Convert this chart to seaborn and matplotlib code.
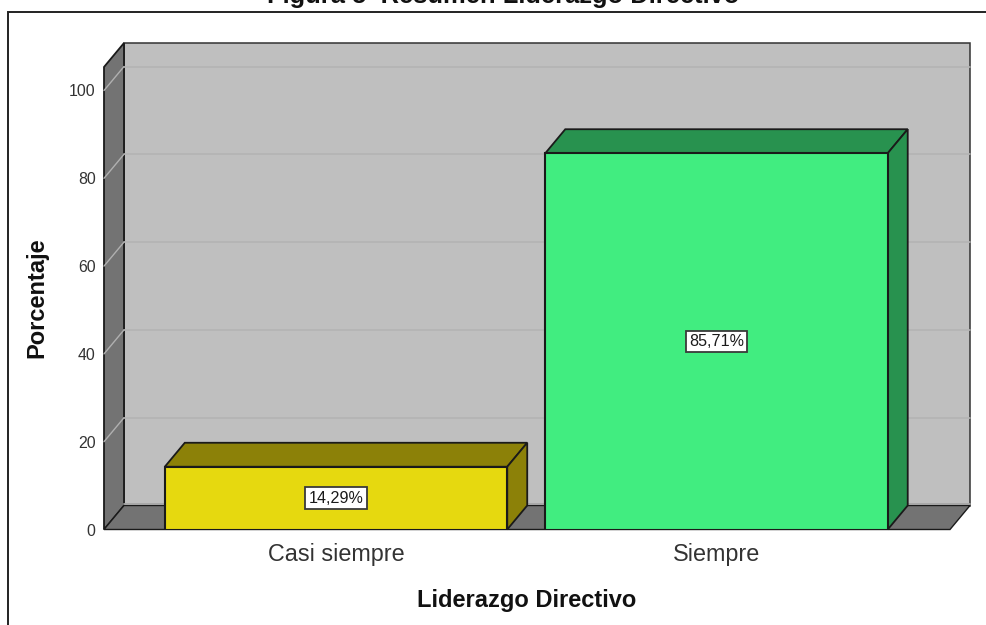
import matplotlib
matplotlib.use("Agg")
import matplotlib.pyplot as plt
import seaborn as sns
import pandas as pd
from matplotlib.patches import Polygon, Rectangle

sns.set_theme(style="white")
plt.rcParams['font.family'] = ['Liberation Sans', 'DejaVu Sans']

categories = ["Casi siempre", "Siempre"]
percentages = [14.29, 85.71]
value_labels = ["14,29%", "85,71%"]
y_ticks = [0, 20, 40, 60, 80, 100]
bar_colors = ["#e6d90f", "#41ed80"]
shade_colors = ["#8c8108", "#28924f"]
title = "Figura 5  Resumen Liderazgo Directivo"
x_title = "Liderazgo Directivo"
y_title = "Porcentaje"

W, H = 987, 625
LEFT, RIGHT, FLOOR, TOP = 104, 950, 529.5, 67
PX_PER_UNIT = 4.39
PX_PER_CAT = 380.5
CENTER0 = 336
DX, DY = 20, 24
WALL, SIDE, EDGE = "#bfbfbf", "#737373", "#1a1a1a"

fig = plt.figure(figsize=(W / 100, H / 100), dpi=100, facecolor="white")
ax = fig.add_axes([LEFT / W, 1 - FLOOR / H, (RIGHT - LEFT) / W, (FLOOR - TOP) / H])
df = pd.DataFrame({"cat": categories, "pct": percentages})
sns.barplot(data=df, x="cat", y="pct", hue="cat", palette=bar_colors, legend=False,
            width=0.9, saturation=1, edgecolor=EDGE, linewidth=1.5, ax=ax, zorder=5)
ax.set_xlim((LEFT - CENTER0) / PX_PER_CAT, (RIGHT - CENTER0) / PX_PER_CAT)
ax.set_ylim(0, (FLOOR - TOP) / PX_PER_UNIT)
ax.patch.set_alpha(0)
for s in ax.spines.values():
    s.set_visible(False)

ddx, ddy = DX / PX_PER_CAT, DY / PX_PER_UNIT
x0, x1 = ax.get_xlim()
y1 = ax.get_ylim()[1]

def poly(pts, fc, z, ec=EDGE, lw=1.3):
    ax.add_patch(Polygon(pts, closed=True, facecolor=fc, edgecolor=ec, linewidth=lw,
                         clip_on=False, zorder=z, joinstyle="miter"))

# room: back wall, left wall, floor
poly([(x0 + ddx, ddy), (x1 + ddx, ddy), (x1 + ddx, y1 + ddy), (x0 + ddx, y1 + ddy)], WALL, 1, ec="#333333", lw=1.1)
poly([(x0, 0), (x0 + ddx, ddy), (x0 + ddx, y1 + ddy), (x0, y1)], SIDE, 2)
poly([(x0, 0), (x1, 0), (x1 + ddx, ddy), (x0 + ddx, ddy)], SIDE, 2, lw=1.0)
ax.plot([x0 + ddx, x1 + ddx], [ddy + 0.4, ddy + 0.4], color="#a6a6a6", lw=1.3, zorder=3, clip_on=False)
for t in y_ticks[1:]:
    ax.plot([x0 + ddx, x1 + ddx], [t + ddy, t + ddy], color="#b4b4b4", lw=1.2,
            zorder=3, clip_on=False)
    ax.plot([x0, x0 + ddx], [t, t + ddy], color="#b0b0b0", lw=1.0, zorder=3, clip_on=False)

# bar depth faces and labels
for patch, shade, lab in zip(ax.patches, shade_colors, value_labels):
    a, b, h = patch.get_x(), patch.get_x() + patch.get_width(), patch.get_height()
    poly([(a, h), (b, h), (b + ddx, h + ddy), (a + ddx, h + ddy)], shade, 4)
    poly([(b, 0), (b + ddx, ddy), (b + ddx, h + ddy), (b, h)], shade, 4)
    ax.text((a + b) / 2, h / 2, lab, ha="center", va="center", fontsize=11.6, color="#1a1a1a", zorder=7,
            bbox=dict(boxstyle="square,pad=0.2", facecolor="white", edgecolor="#3a3a3a", linewidth=1.3))

ax.set_yticks(y_ticks)
ax.set_yticklabels([str(t) for t in y_ticks], fontsize=11.4, color="#333333")
ax.set_xticks(range(len(categories)))
ax.set_xticklabels(categories, fontsize=16.8, color="#333333")
ax.tick_params(axis="y", length=0, pad=6)
ax.tick_params(axis="x", length=0, pad=10)
ax.set_xlabel("")
ax.set_ylabel("")

# labels positioned in figure pixels
fig.text(527 / W, 1 - 600 / H, x_title, ha="center", va="center", fontsize=17, fontweight="bold", color="#111111")
fig.text(37 / W, 1 - 298 / H, y_title, ha="center", va="center", rotation=90, fontsize=17, fontweight="bold", color="#111111")
fig.text(503 / W, 1 - 3.5 / H, title, ha="center", va="baseline", fontsize=18.4, fontweight="bold", color="#111111")

# outer frame, open at right and bottom edges of the image
fig.add_artist(Rectangle((8.5 / W, -0.05), (W + 20) / W, 1.05 - 11.5 / H, transform=fig.transFigure,
                         facecolor="none", edgecolor="#222222", linewidth=1.4))

fig.savefig("out.png", dpi=100)
